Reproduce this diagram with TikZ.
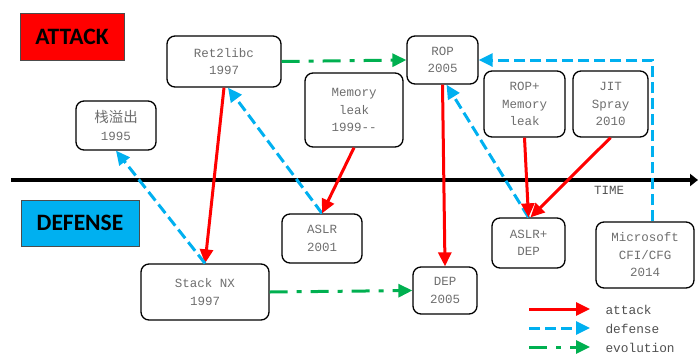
\documentclass[tikz,border=0pt]{standalone}
\usepackage{fontspec}
\newfontfamily\monof{Liberation Mono}
\newfontfamily\cjkf{Noto Sans CJK SC}
\newfontfamily\labf{Carlito}
\usetikzlibrary{arrows.meta,calc}
\definecolor{atkred}{HTML}{FF0000}
\definecolor{defblue}{HTML}{00B0F0}
\definecolor{evogreen}{HTML}{00B050}
\definecolor{txtgray}{HTML}{6E6E6E}
\definecolor{leggray}{HTML}{505050}
\tikzset{
  box/.style={draw=black, line width=1.3pt, rounded corners=8pt, align=center,
    text=txtgray, font=\monof\fontsize{12.5}{17.5}\selectfont, inner sep=0pt},
  tag/.style={draw=black!70, line width=0.6pt, inner sep=0pt,
    font=\labf\bfseries\fontsize{23.5}{26}\selectfont, text=black},
  tip/.style={-{Triangle[length=14pt,width=13pt]}},
  atkarrow/.style={tip, draw=atkred, line width=3pt},
  defarrow/.style={tip, draw=defblue, line width=3pt, dash pattern=on 11pt off 5pt},
  evoarrow/.style={tip, draw=evogreen, line width=3pt, dash pattern=on 18pt off 9pt on 5pt off 9pt},
  legtext/.style={anchor=west, text=leggray, font=\monof\fontsize{12.8}{14}\selectfont},
}
\begin{document}
\begin{tikzpicture}[x=1pt,y=-1pt]
\useasboundingbox (0,0) rectangle (698,354);

% category tags
\node[tag, fill=atkred, minimum width=104, minimum height=47] (atk) at (72,37) {\raisebox{-5.5pt}{ATTACK}};
\node[tag, fill=defblue, minimum width=118, minimum height=46] (dfn) at (80,223) {\raisebox{-6pt}{DEFENSE}};

% timeline
\coordinate (tl) at (11,180);
\coordinate (tr) at (698,180);
\draw[line width=3.2pt, -{Triangle[length=8pt,width=12pt]}] (tl) -- (tr);
\node[text=leggray, font=\monof\fontsize{12.5}{13}\selectfont] (time) at (609,190) {TIME};

% attack nodes
\node[box, minimum width=80, minimum height=49] (so) at (116,125.5) {{\cjkf\fontsize{14.5}{17.5}\selectfont 栈溢出}\\1995};
\node[box, minimum width=114, minimum height=51] (ret) at (224,61.5) {Ret2libc\\1997};
\node[box, minimum width=98, minimum height=74] (mem) at (354,110) {Memory\\leak\\1999-{}-};
\node[box, minimum width=71, minimum height=48] (rop) at (442.5,60) {ROP\\2005};
\node[box, minimum width=81, minimum height=66] (ropm) at (524.5,104) {ROP+\\Memory\\leak};
\node[box, minimum width=75, minimum height=66] (jit) at (610.5,104) {JIT\\Spray\\2010};

% defense nodes
\node[box, minimum width=80, minimum height=49] (aslr) at (322,238.5) {ASLR\\2001};
\node[box, minimum width=128, minimum height=56] (nx) at (205,292) {Stack NX\\1997};
\node[box, minimum width=64, minimum height=47] (dep) at (445,290.5) {DEP\\2005};
\node[box, minimum width=73, minimum height=50] (ad) at (528.5,243) {ASLR+\\DEP};
\node[box, minimum width=98, minimum height=66] (ms) at (645,255) {Microsoft\\CFI/CFG\\2014};

% connectors
\draw[atkarrow] (ret.south) -- (nx.north);
\draw[defarrow] (nx.north) -- (so.south);
\draw[defarrow] (aslr.north) -- ($(ret.south)+(4,0)$);
\draw[atkarrow] (mem.south) -- (aslr.north);
\draw[evoarrow] (ret.east) -- (rop.west);
\draw[evoarrow] (nx.east) -- (dep.west);
\draw[atkarrow] (rop.south) -- (dep.north);
\draw[defarrow] (ad.north) -- ($(rop.south)+(4,0)$);
\draw[atkarrow] (ropm.south) -- (ad.north);
\draw[atkarrow] (jit.south) -- ($(ad.north)+(2,0)$);
\draw[defarrow] ($(ms.north)+(7,0)$) |- (rop.east);

% legend
\coordinate (la1) at (529,309); \coordinate (la2) at (590,309);
\coordinate (lb1) at (529,328); \coordinate (lb2) at (590,328);
\coordinate (lc1) at (529,347); \coordinate (lc2) at (590,347);
\draw[atkarrow] (la1) -- (la2);
\draw[defarrow] (lb1) -- (lb2);
\draw[evoarrow] (lc1) -- (lc2);
\node[legtext] (lta) at (602,310) {attack};
\node[legtext] (ltb) at (602,329) {defense};
\node[legtext] (ltc) at (602,348) {evolution};
\end{tikzpicture}
\end{document}
